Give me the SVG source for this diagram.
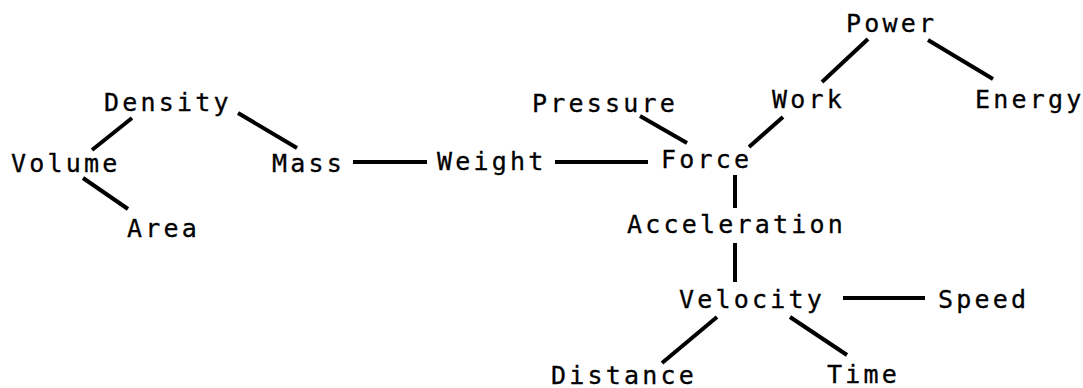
<svg xmlns="http://www.w3.org/2000/svg" width="1083" height="388" viewBox="0 0 1083 388">
  <style>
    .bg { fill: #ffffff; }
    .lbl { font-family: "DejaVu Sans Mono", "Liberation Mono", monospace; font-size: 25px; letter-spacing: 3.2px; fill: #000000; stroke: #000000; stroke-width: 0.3px; }
    .edge { stroke: #000000; stroke-width: 4; stroke-linecap: butt; fill: none; }
  </style>
  <rect class="bg" x="0" y="0" width="1083" height="388"/>

  <!-- links between the quantities -->
  <g id="connectors">
    <line class="edge" x1="132" y1="118" x2="92" y2="150"/>
    <line class="edge" x1="238" y1="113" x2="297" y2="148"/>
    <line class="edge" x1="83" y1="178" x2="128" y2="209"/>
    <line class="edge" x1="353" y1="162" x2="427" y2="162"/>
    <line class="edge" x1="555" y1="162" x2="648" y2="162"/>
    <line class="edge" x1="640" y1="116" x2="687" y2="143"/>
    <line class="edge" x1="783" y1="117" x2="749" y2="147"/>
    <line class="edge" x1="868" y1="39" x2="822" y2="82"/>
    <line class="edge" x1="928" y1="40" x2="993" y2="79"/>
    <line class="edge" x1="735" y1="175" x2="735" y2="208"/>
    <line class="edge" x1="735" y1="243" x2="735" y2="282"/>
    <line class="edge" x1="843" y1="298" x2="925" y2="298"/>
    <line class="edge" x1="717" y1="317" x2="662" y2="363"/>
    <line class="edge" x1="790" y1="317" x2="847" y2="355"/>
  </g>

  <g id="node-power"><text class="lbl" x="846" y="32">Power</text></g>
  <g id="node-work"><text class="lbl" x="772" y="108">Work</text></g>
  <g id="node-energy"><text class="lbl" x="975" y="108">Energy</text></g>
  <g id="node-pressure"><text class="lbl" x="532" y="112">Pressure</text></g>
  <g id="node-density"><text class="lbl" x="104" y="111">Density</text></g>
  <g id="node-volume"><text class="lbl" x="11" y="172">Volume</text></g>
  <g id="node-mass"><text class="lbl" x="272" y="172">Mass</text></g>
  <g id="node-weight"><text class="lbl" x="437" y="170">Weight</text></g>
  <g id="node-force"><text class="lbl" x="661" y="168">Force</text></g>
  <g id="node-area"><text class="lbl" x="127" y="237">Area</text></g>
  <g id="node-acceleration"><text class="lbl" x="627" y="233">Acceleration</text></g>
  <g id="node-velocity"><text class="lbl" x="679" y="308">Velocity</text></g>
  <g id="node-speed"><text class="lbl" x="938" y="308">Speed</text></g>
  <g id="node-distance"><text class="lbl" x="551" y="384">Distance</text></g>
  <g id="node-time"><text class="lbl" x="827" y="383">Time</text></g>
</svg>
